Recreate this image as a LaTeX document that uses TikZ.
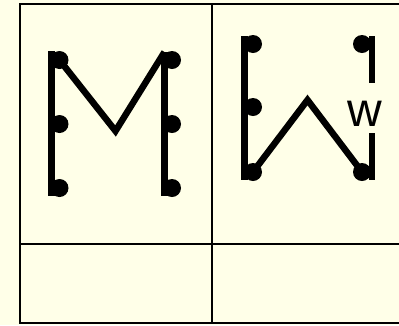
\documentclass[tikz,border=0pt]{standalone}
\usepackage{fontspec}
\setmainfont{Liberation Sans}
\definecolor{bgyellow}{HTML}{FFFFE8}
\begin{document}
\begin{tikzpicture}[x=1pt,y=-1pt,
  dotnode/.style={circle,fill=black,inner sep=0pt,minimum size=18pt},
  stroke/.style={line width=6.5pt,line cap=butt,line join=miter},
  grid/.style={line width=2pt}]
\useasboundingbox[fill=bgyellow] (0,0) rectangle (399,325);
% table
\draw[grid] (20,3.5) rectangle (405,323);
\draw[grid] (211.5,3.5) -- (211.5,323);
\draw[grid] (20,243.5) -- (405,243.5);
% M
\node[dotnode] (ml1) at (59.5,60) {};
\node[dotnode] (ml2) at (59.5,124) {};
\node[dotnode] (ml3) at (59.5,188) {};
\node[dotnode] (mr1) at (172,60) {};
\node[dotnode] (mr2) at (172,124) {};
\node[dotnode] (mr3) at (172,188) {};
\coordinate (mlt) at (51.5,51);
\coordinate (mlb) at (51.5,196);
\coordinate (mrt) at (164.5,52);
\coordinate (mrb) at (164.5,196);
\coordinate (mv) at (115.5,131);
\draw[stroke] (mlt) -- (mlb);
\draw[stroke] (mrt) -- (mrb);
\draw[stroke] (ml1.center) -- (mv) -- (mrt);
% W
\node[dotnode] (wl1) at (253,44) {};
\node[dotnode] (wl2) at (253,107) {};
\node[dotnode] (wl3) at (253,172) {};
\node[dotnode] (wr1) at (362,44) {};
\node[dotnode] (wr3) at (362,172) {};
\coordinate (wlt) at (244.5,36);
\coordinate (wlb) at (244.5,180);
\coordinate (wrt) at (372,36);
\coordinate (wrm) at (372,83);
\coordinate (wrn) at (372,133);
\coordinate (wrb) at (372,180);
\coordinate (wv) at (307.5,100);
\draw[stroke] (wlt) -- (wlb);
\draw[stroke] (wrt) -- (wrm);
\draw[stroke] (wrn) -- (wrb);
\draw[stroke] (wl3.center) -- (wv) -- (wr3.center);
\node[font=\fontsize{48}{48}\selectfont,inner sep=0pt] (wlabel) at (365,114) {w};
\end{tikzpicture}
\end{document}
